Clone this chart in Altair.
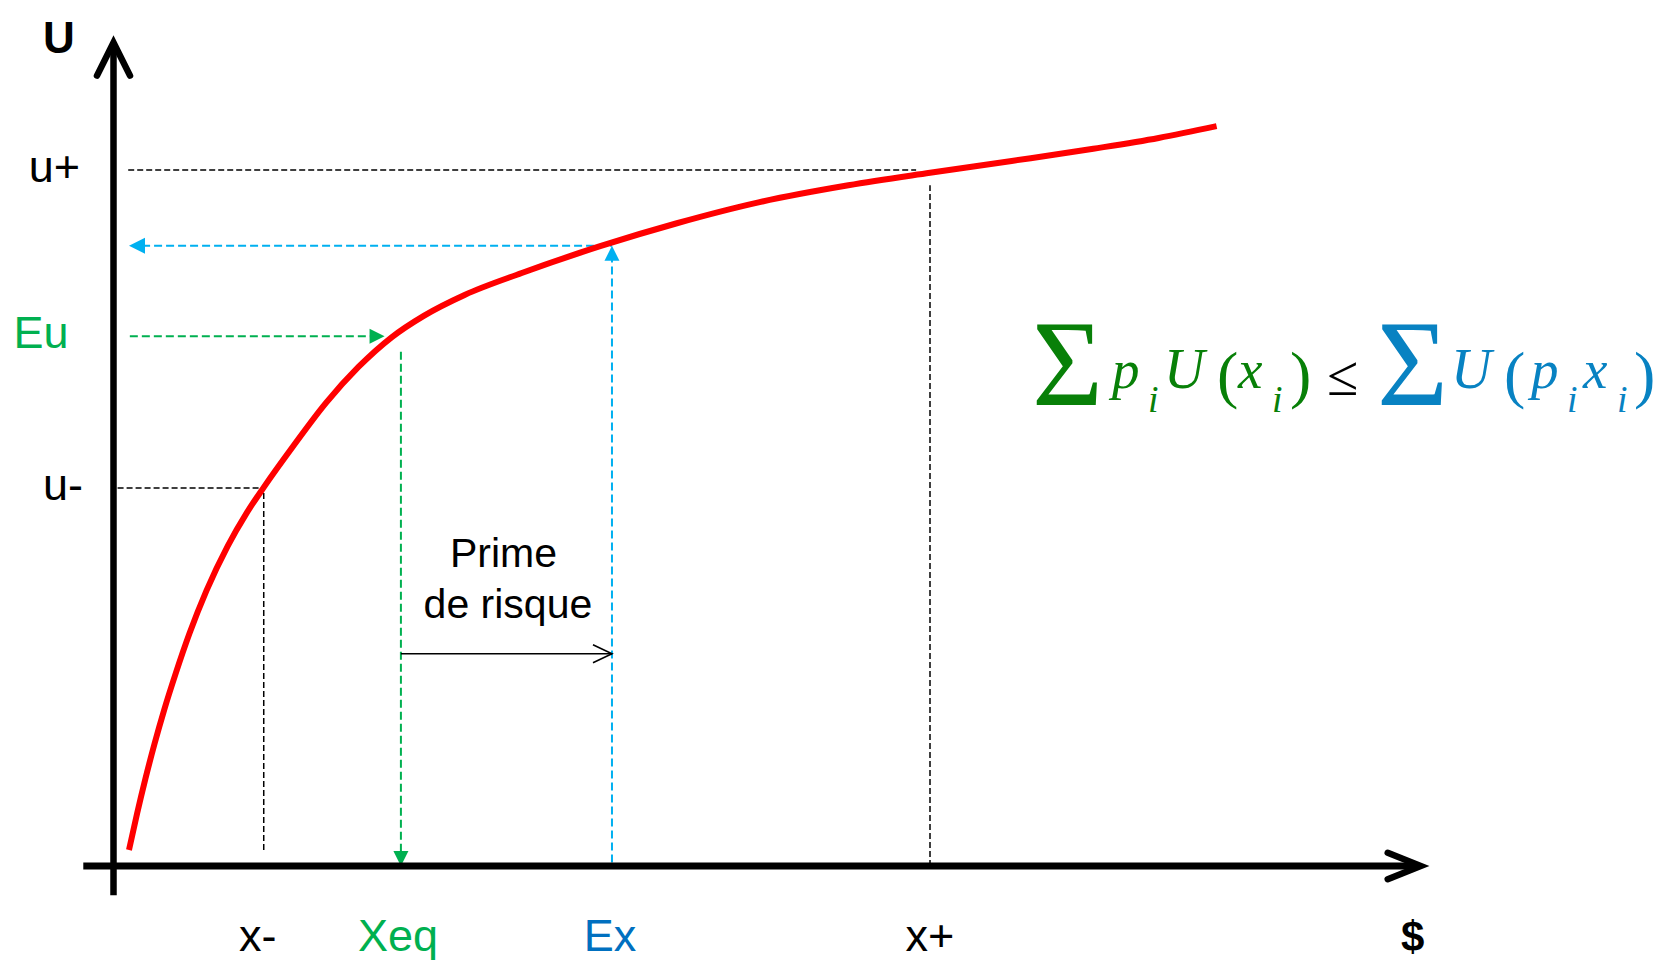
import altair as alt
import pandas as pd

# ---------------- values ----------------
# utility curve: wealth ($) and utility (U)
WEALTH = [1.9, 2.9, 3.9, 5.0, 6.2, 7.6, 9.3, 11.4, 14.0, 16.3, 18.4, 22.0, 26.0, 30.0,
          34.1, 38.0, 43.0, 50.0, 59.6, 69.0, 79.0, 90.0, 100.0, 110.0, 120.0, 128.0, 135.1]
UTILITY = [2.3, 7.6, 12.5, 17.45, 22.4, 27.6, 33.4, 39.6, 46.0, 50.7, 54.4, 60.3, 66.5, 71.7,
           76.0, 79.05, 82.05, 85.2, 89.05, 92.35, 95.35, 97.8, 99.6, 101.3, 103.05, 104.6, 106.3]

# wealth levels on the $ axis
X_LABELS = ["x-", "Xeq", "Ex", "x+"]
X_VALUES = [18.4, 35.2, 61.05, 100.0]
# utility levels on the U axis
U_LABELS = ["u-", "Eu", "u+"]
U_VALUES = [54.3, 76.1, 100.0]
U_OF_EX = 89.1          # U(Ex)
PRIME_LABEL = ["Prime", "de risque"]

# ---------------- layout (not data) ----------------
W, H = 1652, 952
PX_X, PX_Y = 8.165, 6.96            # px per unit
ORIG_X, ORIG_Y = 105.5, 858.0       # origin inside the chart
X_DOMAIN = [-ORIG_X / PX_X, (W - ORIG_X) / PX_X]
Y_DOMAIN = [-(H - ORIG_Y) / PX_Y, ORIG_Y / PX_Y]
X_TIP, Y_TIP = 160.1, 118.3         # arrow tips of the axes
X_START, Y_START = -3.7, -4.2
PRIME_Y = 30.5

SANS = "Liberation Sans"
SERIF = "Liberation Serif"
GREEN_L, BLUE_L = "#00B050", "#00B0F0"
GREEN_T, BLUE_T = "#00B050", "#0070C0"
GREEN_F, BLUE_F = "#088008", "#0882C2"

xs = alt.Scale(domain=X_DOMAIN, nice=False, zero=False)
ys = alt.Scale(domain=Y_DOMAIN, nice=False, zero=False)


def ex(f="x"):
    return alt.X(f, type="quantitative", scale=xs, axis=None)


def ey(f="y"):
    return alt.Y(f, type="quantitative", scale=ys, axis=None)


def segs(rows, **mk):
    df = pd.DataFrame(rows, columns=["x", "y", "x2", "y2"])
    return alt.Chart(df).mark_rule(**mk).encode(
        x=ex(), y=ey(), x2="x2:Q", y2="y2:Q")


def head(x, y, path, size, **mk):
    df = pd.DataFrame({"x": [x], "y": [y]})
    return alt.Chart(df).mark_point(shape=path, size=size, opacity=1, **mk).encode(
        x=ex(), y=ey())


def txt(x, y, s, **mk):
    df = pd.DataFrame({"x": [x], "y": [y], "t": [s]})
    return alt.Chart(df).mark_text(**mk).encode(x=ex(), y=ey(), text="t:N")


xm, xeq, exv, xp = X_VALUES
um, eu, up = U_VALUES

layers = []

# dashed guide lines
dash_k = dict(color="black", strokeWidth=1.5, strokeDash=[6, 3])
layers.append(segs([
    [0.5, um, xm, um],
    [xm, 2.3, xm, um],
    [1.8, up, 98.3, up],
    [xp, 0, xp, 97.8],
], **dash_k))
layers.append(segs([
    [2.0, eu, 32.0, eu],
    [xeq, 73.9, xeq, 2.0],
], color=GREEN_L, strokeWidth=2, strokeDash=[8, 4]))
layers.append(segs([
    [3.5, U_OF_EX, exv, U_OF_EX],
    [exv, 0.5, exv, U_OF_EX - 2.0],
], color=BLUE_L, strokeWidth=2, strokeDash=[8, 4]))

# risk premium arrow
layers.append(segs([[xeq, PRIME_Y, exv, PRIME_Y]], color="black", strokeWidth=1.6))
layers.append(head(exv, PRIME_Y, "M-2,-0.95L0,0L-2,0.95", 361, filled=False,
                   stroke="black", strokeWidth=1.6))

# filled arrowheads
layers.append(head(1.9, U_OF_EX, "M0,0L2,-1L2,1Z", 256, filled=True, color=BLUE_L, strokeWidth=0))
layers.append(head(exv, U_OF_EX, "M0,0L-1,2L1,2Z", 225, filled=True, color=BLUE_L, strokeWidth=0))
layers.append(head(33.2, eu, "M0,0L-2,-1L-2,1Z", 225, filled=True, color=GREEN_L, strokeWidth=0))
layers.append(head(xeq, 0.0, "M0,0L-1,-2L1,-2Z", 225, filled=True, color=GREEN_L, strokeWidth=0))

# utility curve
curve = pd.DataFrame({"w": WEALTH, "u": UTILITY})
layers.append(alt.Chart(curve).mark_line(color="#FF0000", strokeWidth=6, interpolate="monotone",
                                         strokeCap="butt").encode(x=ex("w"), y=ey("u")))

# axes
layers.append(segs([[0, Y_START, 0, Y_TIP - 0.6]], color="black", strokeWidth=6.5))
layers.append(segs([[X_START, 0, X_TIP - 0.5, 0]], color="black", strokeWidth=7))
layers.append(head(0, Y_TIP, "M-1,2L0,0L1,2", 1089, filled=False, stroke="black",
                   strokeWidth=6.5, strokeCap="round", strokeJoin="miter"))
layers.append(head(X_TIP, 0, "M-2,-0.8L0,0L-2,0.8", 1089, filled=False, stroke="black",
                   strokeWidth=6.5, strokeCap="round", strokeJoin="miter"))

# axis titles
layers.append(txt(0, Y_TIP, "U", font=SANS, fontSize=44, fontWeight="bold", dx=-54.5, dy=10,
                  align="center", baseline="alphabetic", color="black"))
layers.append(txt(X_TIP, 0, "$", font=SANS, fontSize=42, fontWeight="bold", dx=-8, dy=85,
                  align="center", baseline="alphabetic", color="black"))

# x labels
x_cols = ["black", GREEN_T, BLUE_T, "black"]
x_dx = [-6, -3, -2, 0]
for lab, v, c, d in zip(X_LABELS, X_VALUES, x_cols, x_dx):
    layers.append(txt(v, 0, lab, font=SANS, fontSize=45, dx=d, dy=85, align="center",
                      baseline="alphabetic", color=c))

# u labels
u_cols = ["black", GREEN_T, "black"]
u_dx = [-50.5, -72.5, -59]
for lab, v, c, d in zip(U_LABELS, U_VALUES, u_cols, u_dx):
    layers.append(txt(0, v, lab, font=SANS, fontSize=45, dx=d, dy=12, align="center",
                      baseline="alphabetic", color=c))

# risk premium text
mid = (xeq + exv) / 2
layers.append(txt(mid, PRIME_Y, PRIME_LABEL[0], font=SANS, fontSize=41, dx=-3, dy=-87,
                  align="center", baseline="alphabetic", color="black"))
layers.append(txt(mid, PRIME_Y, PRIME_LABEL[1], font=SANS, fontSize=41, dx=1.5, dy=-36,
                  align="center", baseline="alphabetic", color="black"))

# formula  sum p_i U(x_i) <= sum U(p_i x_i)
FX, FY = 112.5, 68.7
pieces = [
    # text, dx, dy, size, italic, color
    ("Σ", 0, 17, 122, False, GREEN_F),
    ("p", 80, 0, 55, True, GREEN_F),
    ("i", 116, 24, 38, True, GREEN_F),
    ("U", 132, 0, 56, True, GREEN_F),
    ("(", 185, 8.5, 64, False, GREEN_F),
    ("x", 206, 0, 55, True, GREEN_F),
    ("i", 240, 24, 38, True, GREEN_F),
    (")", 258, 8.5, 64, False, GREEN_F),
    ("≤", 295, 7, 57, False, "black"),
    ("Σ", 345, 17, 122, False, BLUE_F),
    ("U", 419, 0, 56, True, BLUE_F),
    ("(", 472, 8.5, 64, False, BLUE_F),
    ("p", 499, 0, 55, True, BLUE_F),
    ("i", 535, 24, 38, True, BLUE_F),
    ("x", 551, 0, 55, True, BLUE_F),
    ("i", 585, 24, 38, True, BLUE_F),
    (")", 602, 8.5, 64, False, BLUE_F),
]
for s, dxp, dyp, fs, it, col in pieces:
    kw = dict(font=SERIF, fontSize=fs, dx=dxp, dy=dyp, align="left",
              baseline="alphabetic", color=col)
    if it:
        kw["fontStyle"] = "italic"
    layers.append(txt(FX, FY, s, **kw))

chart = alt.layer(*layers).properties(
    width=W, height=H, padding=0, background="white",
    autosize=alt.AutoSizeParams(type="none")
).configure_view(stroke="transparent", strokeWidth=0)

chart.save("out.html", embed_options={"renderer": "svg", "actions": False})
